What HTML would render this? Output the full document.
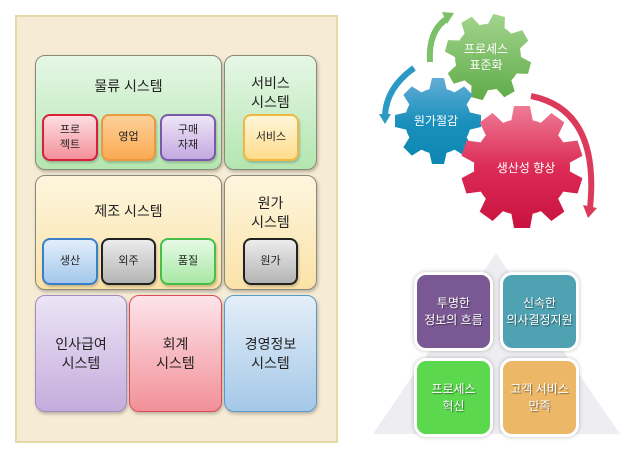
<!DOCTYPE html>
<html><head><meta charset="utf-8"><style>
body{margin:0;width:641px;height:451px;background:#fff;position:relative;overflow:hidden;font-family:"Liberation Sans","Noto Sans CJK KR",sans-serif}
.a{position:absolute;box-sizing:border-box;display:flex;align-items:center;justify-content:center;text-align:center;line-height:1.35}
.big{border-radius:10px;border:1px solid #8a8a7a;box-shadow:1px 2px 3px rgba(0,0,0,.25);font-size:14px;color:#222}
.sm{border-radius:8px;border:2px solid;font-size:11px;color:#222;box-shadow:1px 2px 2px rgba(0,0,0,.2)}
.q{border-radius:12px;border:3px solid #fff;box-shadow:0 0 4px rgba(0,0,0,.25);color:#fff;font-size:12px;text-shadow:1px 1px 1px rgba(0,0,0,.5)}
</style></head><body>
<div class="a" style="left:15px;top:15px;width:323px;height:428px;background:#f6ebd4;border:2px solid #e8d7a8"></div>

<div class="a big" style="left:35px;top:55px;width:187px;height:115px;background:linear-gradient(#e6f7e6,#b4e6b0);align-items:flex-start;padding-top:21px">물류 시스템</div>
<div class="a big" style="left:224px;top:55px;width:93px;height:115px;background:linear-gradient(#e6f7e6,#b4e6b0);align-items:flex-start;padding-top:18px">서비스<br>시스템</div>
<div class="a big" style="left:35px;top:175px;width:187px;height:115px;background:linear-gradient(#fdf6de,#fbe2a8);align-items:flex-start;padding-top:26px">제조 시스템</div>
<div class="a big" style="left:224px;top:175px;width:93px;height:115px;background:linear-gradient(#fdf6de,#fbe2a8);align-items:flex-start;padding-top:18px">원가<br>시스템</div>
<div class="a big" style="left:35px;top:295px;width:92px;height:117px;background:linear-gradient(#ece4f6,#c4acdc);border-color:#a08cc0">인사급여<br>시스템</div>
<div class="a big" style="left:129px;top:295px;width:93px;height:117px;background:linear-gradient(#fde4ea,#f29098);border-color:#d84a5a">회계<br>시스템</div>
<div class="a big" style="left:224px;top:295px;width:93px;height:117px;background:linear-gradient(#e4eef8,#a4c8e8);border-color:#5a9ac8">경영정보<br>시스템</div>

<div class="a sm" style="left:42px;top:114px;width:56px;height:47px;background:linear-gradient(#fcdde2,#f4909a);border-color:#d8203a">프로<br>젝트</div>
<div class="a sm" style="left:101px;top:114px;width:55px;height:47px;background:linear-gradient(#fdd09a,#fbaa52);border-color:#e89a40">영업</div>
<div class="a sm" style="left:160px;top:114px;width:56px;height:47px;background:linear-gradient(#efe6f8,#c4a8e0);border-color:#7a5aa8">구매<br>자재</div>
<div class="a sm" style="left:243px;top:114px;width:56px;height:47px;background:linear-gradient(#fff6d8,#fddc8c);border-color:#f0b840">서비스</div>
<div class="a sm" style="left:42px;top:238px;width:56px;height:47px;background:linear-gradient(#e2eefa,#a4c8ec);border-color:#3a80c8">생산</div>
<div class="a sm" style="left:101px;top:238px;width:55px;height:47px;background:linear-gradient(#ececec,#b4b4b4);border-color:#222">외주</div>
<div class="a sm" style="left:160px;top:238px;width:56px;height:47px;background:linear-gradient(#e6fae6,#a8e8a4);border-color:#48c048">품질</div>
<div class="a sm" style="left:243px;top:238px;width:55px;height:47px;background:linear-gradient(#ececec,#b4b4b4);border-color:#222">원가</div>

<svg style="position:absolute;left:0;top:0" width="641" height="451">
<defs>
<linearGradient id="gg" x1="0" y1="0" x2="0" y2="1"><stop offset="0" stop-color="#a6d690"/><stop offset="1" stop-color="#5aa844"/></linearGradient>
<linearGradient id="bg" x1="0" y1="0" x2="0" y2="1"><stop offset="0" stop-color="#6ab0d8"/><stop offset="0.5" stop-color="#1a90bc"/><stop offset="1" stop-color="#0a86b0"/></linearGradient>
<linearGradient id="rg" x1="0" y1="0" x2="0" y2="1"><stop offset="0" stop-color="#f08098"/><stop offset="0.5" stop-color="#dc2c56"/><stop offset="1" stop-color="#c8103e"/></linearGradient>
<polygon id="t1" points="-9,-30 -6,-43 6,-43 9,-30"/>
<polygon id="t2" points="-11,-45 -8,-61 8,-61 11,-45"/>
<clipPath id="cg">
<circle cx="488" cy="57" r="33"/>
<use href="#t1" transform="translate(488,57) rotate(15)"/><use href="#t1" transform="translate(488,57) rotate(60)"/><use href="#t1" transform="translate(488,57) rotate(105)"/><use href="#t1" transform="translate(488,57) rotate(150)"/><use href="#t1" transform="translate(488,57) rotate(195)"/><use href="#t1" transform="translate(488,57) rotate(240)"/><use href="#t1" transform="translate(488,57) rotate(285)"/><use href="#t1" transform="translate(488,57) rotate(330)"/>
</clipPath>
<clipPath id="cb">
<circle cx="438" cy="121" r="33"/>
<use href="#t1" transform="translate(438,121) rotate(0)"/><use href="#t1" transform="translate(438,121) rotate(45)"/><use href="#t1" transform="translate(438,121) rotate(90)"/><use href="#t1" transform="translate(438,121) rotate(135)"/><use href="#t1" transform="translate(438,121) rotate(180)"/><use href="#t1" transform="translate(438,121) rotate(225)"/><use href="#t1" transform="translate(438,121) rotate(270)"/><use href="#t1" transform="translate(438,121) rotate(315)"/>
</clipPath>
<clipPath id="cr">
<circle cx="522" cy="167" r="48"/>
<use href="#t2" transform="translate(522,167) rotate(0)"/><use href="#t2" transform="translate(522,167) rotate(36)"/><use href="#t2" transform="translate(522,167) rotate(72)"/><use href="#t2" transform="translate(522,167) rotate(108)"/><use href="#t2" transform="translate(522,167) rotate(144)"/><use href="#t2" transform="translate(522,167) rotate(180)"/><use href="#t2" transform="translate(522,167) rotate(216)"/><use href="#t2" transform="translate(522,167) rotate(252)"/><use href="#t2" transform="translate(522,167) rotate(288)"/><use href="#t2" transform="translate(522,167) rotate(324)"/>
</clipPath>
</defs>
<!-- arrows -->
<path d="M430,62 Q428,30 448,18" fill="none" stroke="#7cc06a" stroke-width="6"/>
<polygon points="442,12 454,13 447,24" fill="#7cc06a"/>
<path d="M414,68 Q386,88 385,116" fill="none" stroke="#2a9ac4" stroke-width="6"/>
<polygon points="379,114 391,114 385,124" fill="#2a9ac4"/>
<path d="M531,96 Q600,110 590,208" fill="none" stroke="#dc3a5a" stroke-width="6"/>
<polygon points="583,205 597,208 588,218" fill="#dc3a5a"/>
<rect x="440" y="10" width="96" height="96" fill="url(#gg)" clip-path="url(#cg)"/>
<rect x="390" y="74" width="96" height="96" fill="url(#bg)" clip-path="url(#cb)"/>
<rect x="458" y="103" width="128" height="128" fill="url(#rg)" clip-path="url(#cr)"/>
<g fill="#fff" font-size="12" text-anchor="middle" font-family="Liberation Sans,Noto Sans CJK KR,sans-serif">
<text x="486" y="53">프로세스</text><text x="486" y="69">표준화</text>
<text x="436" y="125">원가절감</text>
<text x="526" y="172">생산성 향상</text>
</g>
<!-- pyramid -->
<polygon points="496,253 620,434 373,434" fill="#eeeef2"/>
</svg>

<div class="a q" style="left:414px;top:272px;width:79px;height:79px;background:#7a5894">투명한<br>정보의 흐름</div>
<div class="a q" style="left:500px;top:272px;width:79px;height:79px;background:#4fa2b2">신속한<br>의사결정지원</div>
<div class="a q" style="left:414px;top:358px;width:79px;height:79px;background:#5cd84e">프로세스<br>혁신</div>
<div class="a q" style="left:500px;top:358px;width:79px;height:79px;background:#ecb868">고객 서비스<br>만족</div>
</body></html>
